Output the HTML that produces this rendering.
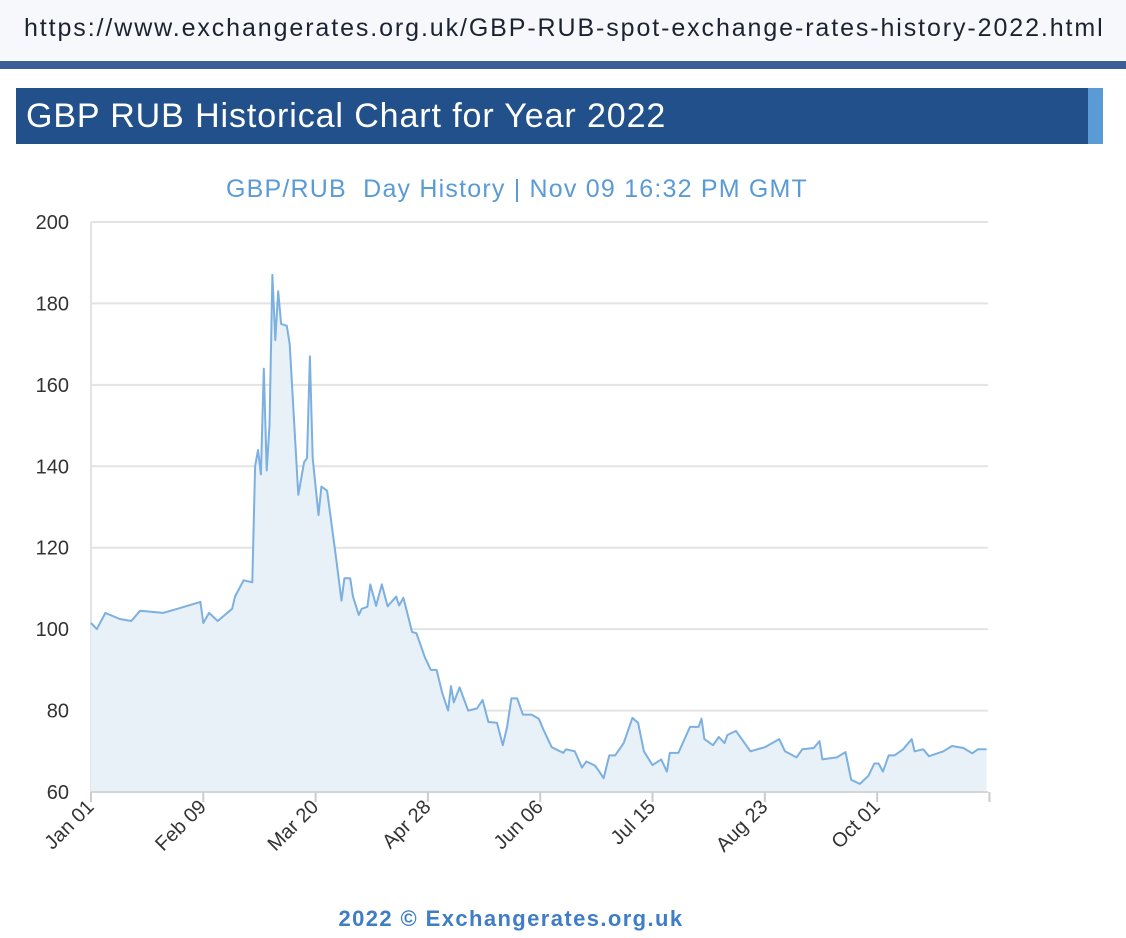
<!DOCTYPE html>
<html><head><meta charset="utf-8"><style>
body{margin:0;width:1126px;height:938px;background:#fff;font-family:"Liberation Sans",sans-serif;overflow:hidden;position:relative}
#url{position:absolute;left:0;top:0;width:1126px;height:60px;background:#f6f8fb;}
#url span{position:absolute;left:24px;top:14px;font-size:25px;letter-spacing:1.9px;color:#1d2230;white-space:nowrap}
#bar{position:absolute;left:0;top:61px;width:1126px;height:8px;background:#3d5d99}
#title{position:absolute;left:16px;top:88px;width:1072px;height:56px;background:#22508a;color:#fff;font-size:34px;letter-spacing:0.9px;line-height:56px;padding-left:10px;box-sizing:border-box;white-space:nowrap}
#title-accent{position:absolute;left:1088px;top:88px;width:15px;height:56px;background:#5b9bd5}
svg{position:absolute;left:0;top:0}
</style></head><body>
<div id="url"><span>https://www.exchangerates.org.uk/GBP-RUB-spot-exchange-rates-history-2022.html</span></div>
<div id="bar"></div>
<div id="title">GBP RUB Historical Chart for Year 2022</div>
<div id="title-accent"></div>
<svg id="chart" width="1126" height="938"></svg>
<script>
const days=[0,2,5,10,14,17,25,30,38,39,41,44,49,50,53,56,57,58,59,60,61,62,63,64,65,66,68,69,72,74,75,76,77,79,80,82,85,87,88,90,91,93,94,96,97,99,101,103,106,107,108.5,111.5,113,116,118,120,122,124,125,126,128,131,134,136,138,141,143,144.5,146,148,150,153,155.5,157,160,164,165,168,170.5,172,175,176.5,178,180,182,185,188,190,192,195,198,200,201,204,208,211,212,213,216,218,220,221,224,229,234,239,241,245,247,251,253,254,259,262,264,267,270,272,273.5,275,277,279,282,285,286,289,291,296,299,303,306,308,311];
const rates=[101.5,100,104,102.5,102,104.5,104,105,106.7,101.5,104,102,105,108,112,111.5,140,144,138,164,139,150,187,171,183,175,174.5,170,133,141,142,167,142,128,135,134,118,107,112.5,112.5,108,103.5,105,105.5,111,105.7,111,105.6,108,105.8,107.7,99.3,99,93,90,90,84.3,80,86,82,85.7,80,80.5,82.6,77.2,77,71.5,76,83,83,79,79,78,75.5,71,69.6,70.5,70,66,67.5,66.5,65,63.4,69,69,72,78.2,77,70,66.6,68,65,69.6,69.6,76,76,78,73,71.5,73.5,72,74,75,70,71,73,70,68.5,70.5,70.8,72.5,68,68.5,69.8,63,62,64,67,67,65,69,69,70.5,73,70,70.5,68.8,70,71.3,70.8,69.5,70.5,70.5];
const yTicks=[60,80,100,120,140,160,180,200];
const xTickDays=[0,39,78,117,156,195,234,273,312];
const xTickLabels=["Jan 01","Feb 09","Mar 20","Apr 28","Jun 06","Jul 15","Aug 23","Oct 01",""];
const NS="http://www.w3.org/2000/svg";
const svg=document.getElementById('chart');
const L=91,R=988,T=222,B=792;
const x=d=>L+d*(R-L)/311.5;
const y=v=>B-(v-60)*(B-T)/140;
function mk(tag,attrs,parent){const e=document.createElementNS(NS,tag);for(const k in attrs)e.setAttribute(k,attrs[k]);(parent||svg).appendChild(e);return e;}
const ttl=mk('text',{x:517,y:197,'text-anchor':'middle','font-size':25,'letter-spacing':'1.2',fill:'#5b9bd5','font-family':'Liberation Sans, sans-serif'});
ttl.textContent='GBP/RUB\u00a0\u00a0Day History | Nov 09 16:32 PM GMT';


yTicks.forEach(v=>{
  const g=mk('line',{x1:L,x2:R,y1:y(v),y2:y(v),stroke:'#e3e3e3','stroke-width':2});
  
  
  const t=mk('text',{x:69,y:y(v)+7,'text-anchor':'end','font-size':20,fill:'#333','font-family':'Liberation Sans, sans-serif'});
  t.textContent=v;
  
  
});
const ax=mk('line',{x1:L,x2:L,y1:T,y2:B,stroke:'#e3e3e3','stroke-width':2});


let pts=days.map((d,i)=>x(d).toFixed(1)+','+y(rates[i]).toFixed(1));
const area=mk('path',{d:'M'+x(days[0])+','+B+' L'+pts.join(' L')+' L'+x(days[days.length-1])+','+B+' Z',fill:'#e8f0f8'});


const line=mk('path',{d:'M'+pts.join(' L'),fill:'none',stroke:'#7cb0e0','stroke-width':2,'stroke-linejoin':'round'});


const xa=mk('line',{x1:L,x2:R,y1:B,y2:B,stroke:'#d5d5d5','stroke-width':2});


xTickDays.forEach((d,i)=>{
  const tk=mk('line',{x1:x(d),x2:x(d),y1:B,y2:B+10,stroke:'#ccc','stroke-width':2});
  
  
  if(xTickLabels[i]){
    const t=mk('text',{x:x(d)+4,y:B+16,'text-anchor':'end','font-size':20,fill:'#333','font-family':'Liberation Sans, sans-serif',transform:`rotate(-45 ${x(d)+4} ${B+16})`});
    t.textContent=xTickLabels[i];
    
    
  }
});
const ft=mk('text',{x:511,y:926,'text-anchor':'middle','font-size':22,'letter-spacing':'1.4','font-weight':'bold',fill:'#3f7dc5','font-family':'Liberation Sans, sans-serif'});
ft.textContent='2022 © Exchangerates.org.uk';


</script>
</body></html>
